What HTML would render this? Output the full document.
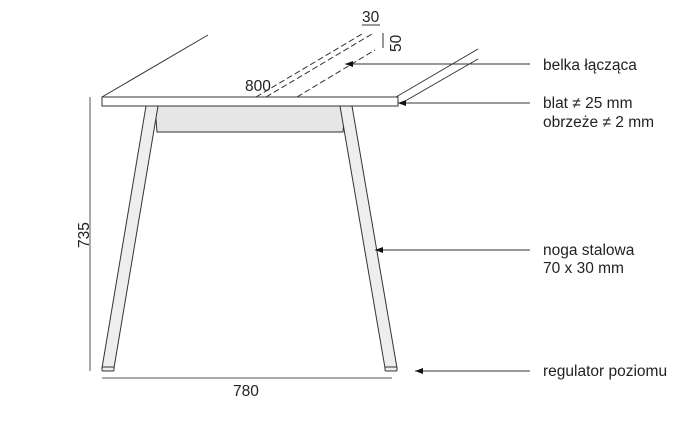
<!DOCTYPE html>
<html><head><style>body{margin:0;background:#fff}svg{display:block}text{font-family:"Liberation Sans",sans-serif;fill:#222}</style></head><body>
<svg width="685" height="422" viewBox="0 0 685 422">
<defs><marker id="a" markerWidth="8" markerHeight="6" refX="8" refY="3" orient="auto" markerUnits="userSpaceOnUse"><path d="M0,0L8,3L0,6z" fill="#111"/></marker></defs>
<g stroke="#333" stroke-width="1" fill="none">
<line x1="102" y1="97" x2="208" y2="35"/>
<line x1="396" y1="97" x2="478" y2="49"/>
<line x1="400" y1="104" x2="478" y2="59"/>
<g stroke-dasharray="6,3">
<line x1="256" y1="97" x2="362" y2="34"/>
<line x1="266" y1="97" x2="372" y2="34"/>
<line x1="297" y1="97" x2="375" y2="50"/>
</g>
<polygon points="155,106 345,106 343,132 157,132" fill="#e6e6e6"/>
<polygon points="146,106 158,106 114,368 102,368" fill="#eee"/>
<polygon points="340,106 352,106 397,368 385,368" fill="#eee"/>
<rect x="102" y="367" width="12" height="4" rx="1" fill="#eee"/>
<rect x="385" y="367" width="12" height="4" rx="1" fill="#eee"/>
<rect x="102" y="97" width="296" height="9" fill="#fff"/>
<line x1="90" y1="97" x2="90" y2="371" stroke="#555"/>
<line x1="102" y1="378" x2="392" y2="378" stroke="#555"/>
<line x1="362" y1="25" x2="380" y2="25"/>
<line x1="383" y1="33" x2="383" y2="48"/>
<line x1="530" y1="64" x2="345" y2="64" marker-end="url(#a)"/>
<line x1="530" y1="103" x2="398" y2="103" marker-end="url(#a)"/>
<line x1="530" y1="250" x2="375" y2="250" marker-end="url(#a)"/>
<line x1="530" y1="371" x2="415" y2="371" marker-end="url(#a)"/>
</g>
<g font-size="15.5">
<text x="245" y="91">800</text>
<text x="362" y="22">30</text>
<text transform="translate(401,52) rotate(-90)">50</text>
<text transform="translate(89,248) rotate(-90)">735</text>
<text x="233" y="396">780</text>
<text x="543" y="70">belka łącząca</text>
<text x="543" y="108">blat ≠ 25 mm</text>
<text x="543" y="127">obrzeże ≠ 2 mm</text>
<text x="543" y="255">noga stalowa</text>
<text x="543" y="273">70 x 30 mm</text>
<text x="543" y="376">regulator poziomu</text>
</g>
</svg>
</body></html>
